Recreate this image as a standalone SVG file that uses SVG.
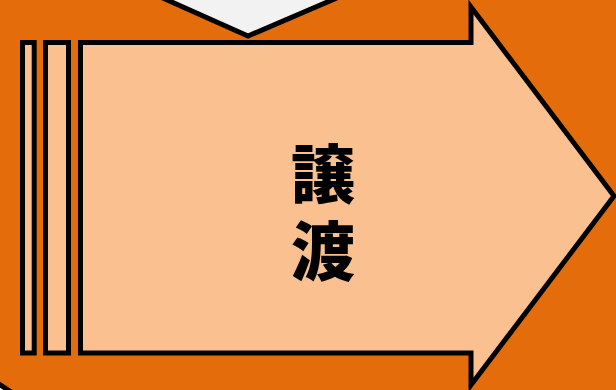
<svg xmlns="http://www.w3.org/2000/svg" width="616" height="390" viewBox="0 0 616 390">
<style>
.ol{stroke:#000;stroke-width:5;stroke-linejoin:miter;stroke-miterlimit:10}
.pe{fill:#FAC090}
.lbl{font-family:"Noto Sans CJK JP","Noto Sans CJK SC",sans-serif;font-weight:900;font-size:64px;fill:#000;writing-mode:vertical-rl;letter-spacing:13px}
</style>
<rect width="616" height="390" fill="#E46C0A"/>
<g id="top-chevron">
<polygon class="ol" fill="#F2F2F2" points="100,-30 248,36 402,-30"/>
</g>
<g id="corner-shape">
<polygon class="ol" fill="#F2F2F2" points="-10,378 14,394 -10,394"/>
</g>
<g id="arrow">
<rect class="ol pe" x="22.5" y="42.5" width="11.7" height="310.5"/>
<rect class="ol pe" x="45.5" y="42.5" width="23" height="310.5"/>
<polygon class="ol pe" points="80.5,42.5 471,42.5 471,7 614,196 471,385 471,353 80.5,353"/>
<text class="lbl" x="323" y="142">譲渡</text>
</g>
<g id="connectors"/>
</svg>
